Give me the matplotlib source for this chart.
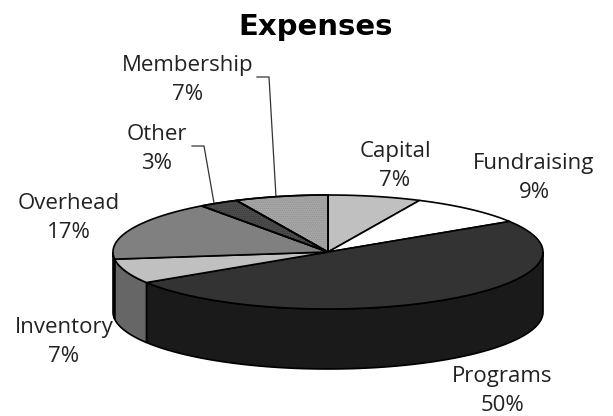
import numpy as np
import matplotlib
matplotlib.use("Agg")
import matplotlib.pyplot as plt
from matplotlib.patches import Polygon

categories = ["Capital", "Fundraising", "Programs", "Inventory", "Overhead", "Other", "Membership"]
values = [7, 9, 50, 7, 17, 3, 7]
top_colors = ["#c0c0c0", "#ffffff", "#333333", "#c0c0c0", "#808080", "#4d4d4d", "#a6a6a6"]
side_colors = ["#909090", "#bfbfbf", "#1a1a1a", "#666666", "#666666", "#333333", "#777777"]
hatches = [None, None, None, None, None, "........", "........"]
hatch_cols = [None, None, None, None, None, "#333333", "#8c8c8c"]

label_pos = [(395, 166), (534, 178), (502, 391), (64, 342), (69, 218), (157, 149), (188, 80)]

CX, CY, RX, RY, DEPTH = 328, 252, 215, 57, 60

plt.rcParams["hatch.linewidth"] = 0.4
fig = plt.figure(figsize=(6.13, 4.16), dpi=100)
ax = fig.add_axes([0, 0, 1, 1])
ax.set_xlim(0, 613)
ax.set_ylim(416, 0)
ax.axis("off")


def rim(a0, a1, dy=0, n=80):
    t = np.radians(np.linspace(a0, a1, n))
    return np.column_stack([CX + RX * np.sin(t), CY + dy - RY * np.cos(t)])


edges = np.concatenate([[0], np.cumsum(values)]) * 360 / sum(values)

# side walls on the visible front half
for i in range(len(values)):
    a0, a1 = max(edges[i], 90), min(edges[i + 1], 270)
    if a1 > a0:
        pts = np.vstack([rim(a0, a1), rim(a0, a1, DEPTH)[::-1]])
        ax.add_patch(Polygon(pts, closed=True, fc=side_colors[i], ec="black", lw=1.2, zorder=2))

# top faces
for i in range(len(values)):
    pts = np.vstack([[CX, CY], rim(edges[i], edges[i + 1])])
    ax.add_patch(Polygon(pts, closed=True, fc=top_colors[i], ec="black", lw=1.2, zorder=3))
    if hatches[i]:
        ax.add_patch(Polygon(pts, closed=True, fc="none", ec=hatch_cols[i], hatch=hatches[i], lw=0, zorder=3.2))
        ax.add_patch(Polygon(pts, closed=True, fc="none", ec="black", lw=1.2, zorder=3.4))

# leader lines
ax.plot([257, 269, 276], [77, 77, 197], color="#333333", lw=0.9, zorder=1)
ax.plot([192, 204, 214], [146, 146, 203], color="#333333", lw=0.9, zorder=1)

for c, v, (x, y) in zip(categories, values, label_pos):
    ax.text(x, y, f"{c}\n{v}%", ha="center", va="center", fontsize=16,
            family="Open Sans", color="#222222", linespacing=1.5)

ax.text(315.5, 35, "Expenses", ha="center", va="baseline", fontsize=21,
        family="DejaVu Sans", weight="bold", color="black")

fig.savefig("out.png", dpi=100)
